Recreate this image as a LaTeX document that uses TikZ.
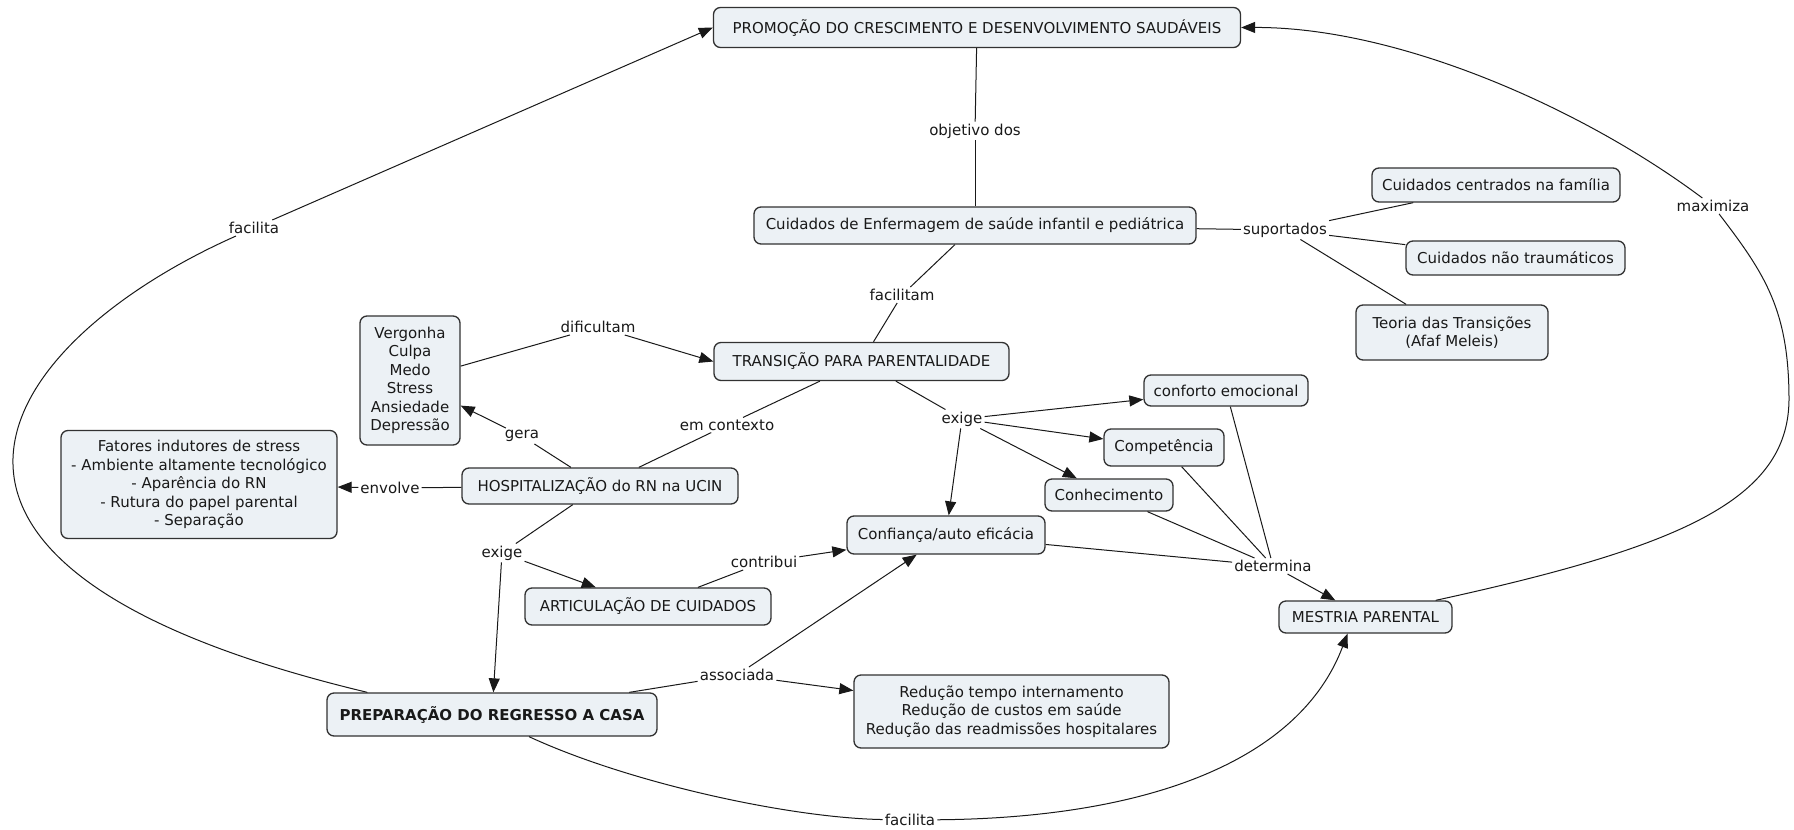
\documentclass[tikz,border=0pt]{standalone}
\usepackage{fontspec}
\setmainfont{DejaVu Sans}
\usetikzlibrary{arrows.meta,calc}
\definecolor{nfill}{RGB}{236,241,245}
\definecolor{nline}{RGB}{50,50,50}
\definecolor{ink}{RGB}{25,25,25}
\begin{document}
\begin{tikzpicture}[x=1pt,y=-1pt,
  cnode/.style={draw=nline, fill=nfill, line width=1.3pt, rounded corners=7pt, text=ink,
    font=\fontsize{15}{18.5}\selectfont, align=center, inner sep=3pt},
  lbl/.style={text=ink, font=\fontsize{15}{18.5}\selectfont, inner sep=2pt},
  conn/.style={draw=ink, line width=1pt},
  arr/.style={conn, -{Triangle[length=14pt,width=11pt]}}]
\fill[white] (0,0) rectangle (1794,830);
\useasboundingbox (0,0) rectangle (1794,830);

% concept nodes
\node[cnode, minimum width=527pt, minimum height=40pt] (promo) at (977,27.5) {PROMOÇÃO DO CRESCIMENTO E DESENVOLVIMENTO SAUDÁVEIS};
\node[cnode, minimum width=442pt, minimum height=37pt] (cenf) at (975,225.5) {Cuidados de Enfermagem de saúde infantil e pediátrica};
\node[cnode, minimum width=248pt, minimum height=34pt] (fam) at (1496,185) {Cuidados centrados na família};
\node[cnode, minimum width=219pt, minimum height=34pt] (ntr) at (1515.5,258) {Cuidados não traumáticos};
\node[cnode, minimum width=192pt, minimum height=55pt] (teo) at (1452,332.5) {Teoria das Transições\\(Afaf Meleis)};
\node[cnode, minimum width=295pt, minimum height=38pt] (trans) at (861.5,361.5) {TRANSIÇÃO PARA PARENTALIDADE};
\node[cnode, minimum width=100pt, minimum height=129pt] (verg) at (410,380.5) {Vergonha\\Culpa\\Medo\\Stress\\Ansiedade\\Depressão};
\node[cnode, minimum width=276pt, minimum height=36pt] (hosp) at (600,486) {HOSPITALIZAÇÃO do RN na UCIN};
\node[cnode, minimum width=276pt, minimum height=108pt] (fat) at (199,484.5) {Fatores indutores de stress\\- Ambiente altamente tecnológico\\- Aparência do RN\\- Rutura do papel parental\\- Separação};
\node[cnode, minimum width=246pt, minimum height=37pt] (artic) at (648,606.5) {ARTICULAÇÃO DE CUIDADOS};
\node[cnode, minimum width=330pt, minimum height=43pt, font=\fontsize{15}{18.5}\selectfont\bfseries] (prep) at (492,714.5) {PREPARAÇÃO DO REGRESSO A CASA};
\node[cnode, minimum width=198pt, minimum height=38pt] (conf) at (946,535) {Confiança/auto eficácia};
\node[cnode, minimum width=315pt, minimum height=73pt] (red) at (1011.5,711.5) {Redução tempo internamento\\Redução de custos em saúde\\Redução das readmissões hospitalares};
\node[cnode, minimum width=164pt, minimum height=31pt] (confor) at (1226,390.5) {conforto emocional};
\node[cnode, minimum width=120pt, minimum height=37pt] (comp) at (1164,447.5) {Competência};
\node[cnode, minimum width=128pt, minimum height=32pt] (conh) at (1109,495) {Conhecimento};
\node[cnode, minimum width=173pt, minimum height=32pt] (mest) at (1365.5,617) {MESTRIA PARENTAL};

% linking phrases
\node[lbl] (objdos) at (975,131) {objetivo dos};
\node[lbl] (facm) at (902,295) {facilitam};
\node[lbl] (sup) at (1285,230) {suportados};
\node[lbl] (dif) at (598,327) {dificultam};
\node[lbl] (gera) at (522,436) {gera};
\node[lbl] (emc) at (727,425) {em contexto};
\node[lbl] (env) at (390,488) {envolve};
\node[lbl] (exa) at (502,553) {exige};
\node[lbl] (contr) at (764,562) {contribui};
\node[lbl] (assoc) at (737,675) {associada};
\node[lbl] (exb) at (962,419) {exige};
\node[lbl] (det) at (1273,566) {determina};
\node[lbl] (maxi) at (1713,206) {maximiza};
\node[lbl] (faca) at (254,228) {facilita};
\node[lbl] (facb) at (910,820) {facilita};

% connectors
\draw[conn] (cenf) -- (objdos);
\draw[conn] (objdos) -- (promo);
\draw[conn] (cenf) -- (facm);
\draw[conn] (facm) -- (trans);
\draw[conn] (cenf) -- (sup);
\draw[conn] (sup) -- (fam);
\draw[conn] (sup) -- (ntr);
\draw[conn] (sup) -- (teo);
\draw[conn] (verg) -- (dif);
\draw[arr] (dif) -- (trans.west);
\draw[conn] (hosp) -- (gera);
\draw[arr] (gera) -- (verg);
\draw[conn] (hosp) -- (emc);
\draw[conn] (emc) -- (trans);
\draw[conn] (hosp) -- (env);
\draw[arr] (env) -- (fat);
\draw[conn] (hosp) -- (exa);
\draw[arr] (exa) -- (artic);
\draw[arr] (exa) -- (prep);
\draw[conn] (artic) -- (contr);
\draw[arr] (contr) -- (conf);
\draw[conn] (prep) -- (assoc);
\draw[arr] (assoc) -- (red);
\draw[arr] (assoc) -- (conf);
\draw[conn] (trans) -- (exb);
\draw[arr] (exb) -- (confor);
\draw[arr] (exb) -- (comp);
\draw[arr] (exb) -- (conh);
\draw[arr] (exb) -- (conf);
\draw[conn] (confor) -- (det);
\draw[conn] (comp) -- (det);
\draw[conn] (conh) -- (det);
\draw[conn] (conf) -- (det);
\draw[arr] (det) -- (mest);

% curved connectors
\draw[conn] ($(prep.north west)+(41,0)$) .. controls (-170,564) and (4,339) .. (faca);
\draw[arr] (faca) -- (promo.west);
\draw[conn] ($(mest.north east)+(-17,0)$) .. controls (1680,547) and (1788,500) .. (1789,400)
   .. controls (1789,310) and (1765,274) .. (maxi);
\draw[arr] (maxi) .. controls (1585,110) and (1400,27) .. (promo.east);
\draw[conn] ($(prep.south)+(37,0)$) .. controls (629,783) and (790,818) .. (facb);
\draw[arr] (facb) .. controls (1150,818) and (1300,760) .. ($(mest.south)+(-18,0)$);
\end{tikzpicture}
\end{document}
